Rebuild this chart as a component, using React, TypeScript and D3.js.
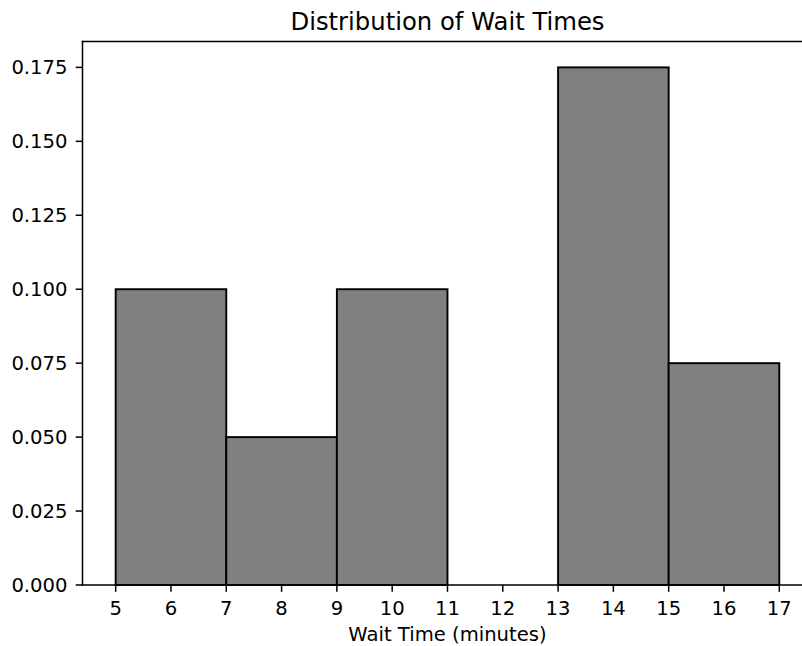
import React from "react";
import * as d3 from "d3";

const binEdges = [5, 7, 9, 11, 13, 15, 17];
const densities = [0.1, 0.05, 0.1, 0.0, 0.175, 0.075];
const xTicks = [5, 6, 7, 8, 9, 10, 11, 12, 13, 14, 15, 16, 17];
const yTicks = [0, 0.025, 0.05, 0.075, 0.1, 0.125, 0.15, 0.175];
const title = "Distribution of Wait Times";
const xLabel = "Wait Time (minutes)";

const W = 802;
const H = 646;
const left = 82.5;
const top = 41.5;
const bottom = 585;

export default function App() {
  const x = d3.scaleLinear().domain([4.4, 17.6]).range([left, left + 13.2 * 55.3]);
  const y = d3.scaleLinear().domain([0, 0.18375]).range([bottom, top]);
  const right = x(17.6);
  const cx = (left + right) / 2;
  const font = "DejaVu Sans, sans-serif";
  const fs = 19.6;
  const lw = 1.5;
  const tl = 6.8;
  return (
    <svg width={W} height={H} style={{ position: "absolute", left: 0, top: 0, background: "#fff", overflow: "hidden" }}>
      <rect x={0} y={0} width={W} height={H} fill="#fff" />
      {densities.map((d, i) => (
        <rect
          key={i}
          x={x(binEdges[i])}
          y={y(d)}
          width={x(binEdges[i + 1]) - x(binEdges[i])}
          height={y(0) - y(d)}
          fill="#808080"
          stroke="#000"
          strokeWidth={1.9}
        />
      ))}
      <line x1={left} x2={left} y1={top} y2={bottom} stroke="#000" strokeWidth={lw} strokeLinecap="square" />
      <line x1={left} x2={W} y1={top} y2={top} stroke="#000" strokeWidth={lw} strokeLinecap="square" />
      <line x1={left} x2={W} y1={bottom} y2={bottom} stroke="#000" strokeWidth={lw} strokeLinecap="square" />
      {xTicks.map((t) => (
        <g key={t}>
          <line x1={x(t)} x2={x(t)} y1={bottom} y2={bottom + tl} stroke="#000" strokeWidth={lw} />
          <text x={x(t)} y={615} textAnchor="middle" fontFamily={font} fontSize={fs} fill="#000">
            {t}
          </text>
        </g>
      ))}
      {yTicks.map((t) => (
        <g key={t}>
          <line x1={left - tl} x2={left} y1={y(t)} y2={y(t)} stroke="#000" strokeWidth={lw} />
          <text x={left - 15} y={y(t)} dy="0.36em" textAnchor="end" fontFamily={font} fontSize={fs} fill="#000">
            {t.toFixed(3)}
          </text>
        </g>
      ))}
      <text x={cx} y={29.5} textAnchor="middle" fontFamily={font} fontSize={24.3} fill="#000">
        {title}
      </text>
      <text x={cx} y={640.5} textAnchor="middle" fontFamily={font} fontSize={fs} fill="#000">
        {xLabel}
      </text>
    </svg>
  );
}
